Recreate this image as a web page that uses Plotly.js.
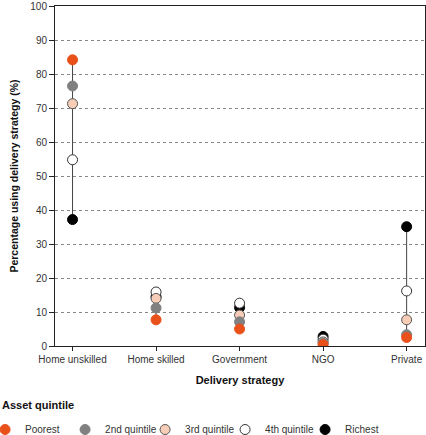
<!DOCTYPE html>
<html>
<head>
<meta charset="utf-8">
<script src="https://cdn.plot.ly/plotly-3.0.1.min.js"></script>
<style>
html,body{margin:0;padding:0;background:#fff;}
#chart{width:426px;height:435px;}
</style>
</head>
<body>
<div id="chart"></div>
<script>
const categories = ["Home unskilled", "Home skilled", "Government", "NGO", "Private"];
const seriesNames = ["Richest", "4th quintile", "3rd quintile", "2nd quintile", "Poorest"];
const richest  = [37.2, 14.5, 11.3, 2.8, 35.1];
const fourth   = [54.8, 15.9, 12.6, 2.0, 16.2];
const third    = [71.3, 14.0, 9.1, 1.2, 7.7];
const second   = [76.5, 11.2, 7.1, 0.8, 3.3];
const poorest  = [84.2, 7.7, 5.0, 0.4, 2.5];
const yTicks   = [0, 10, 20, 30, 40, 50, 60, 70, 80, 90, 100];

const FONT = "'Liberation Sans', Arial, sans-serif";

const seriesValues = [richest, fourth, third, second, poorest];
const styles = [
  {color: "#000000", line: {color: "#000000", width: 1}},
  {color: "#ffffff", line: {color: "#333333", width: 1}},
  {color: "#f7cdb8", line: {color: "#555555", width: 1}},
  {color: "#808080", line: {color: "#808080", width: 1}},
  {color: "#e9501a", line: {color: "#e9501a", width: 1}}
];

// range lines from min to max per category
const lx = [], ly = [];
categories.forEach((c, i) => {
  const vals = seriesValues.map(s => s[i]);
  lx.push(c, c, null);
  ly.push(Math.min(...vals), Math.max(...vals), null);
});

const traces = [{
  x: lx, y: ly, mode: "lines", type: "scatter",
  line: {color: "#444444", width: 1}, showlegend: false, hoverinfo: "skip"
}];
seriesNames.forEach((n, k) => {
  traces.push({
    x: categories, y: seriesValues[k], name: n, type: "scatter", mode: "markers",
    marker: Object.assign({size: 10}, styles[k]),
    legendrank: 5 - k
  });
});

const layout = {
  width: 426, height: 435,
  margin: {l: 55, r: 1, t: 6, b: 89, autoexpand: false},
  paper_bgcolor: "#fff", plot_bgcolor: "#fff",
  font: {family: FONT, size: 10, color: "#333"},
  xaxis: {
    type: "category", range: [-0.21, 4.22],
    showline: true, linecolor: "#222", linewidth: 1, mirror: true,
    ticks: "outside", ticklen: 4, tickcolor: "#222",
    showgrid: false, zeroline: false,
    tickfont: {family: FONT, size: 10, color: "#333"},
    title: {text: "<b>Delivery strategy</b>", font: {family: FONT, size: 11, color: "#111"}, standoff: 12}
  },
  yaxis: {
    range: [0, 100.05], tickmode: "array", tickvals: yTicks, ticktext: yTicks.map(String),
    showline: true, linecolor: "#222", linewidth: 1, mirror: true,
    ticks: "outside", ticklen: 5, tickcolor: "#222",
    showgrid: true, gridcolor: "#888", griddash: "dot", gridwidth: 1,
    zeroline: false,
    tickfont: {family: FONT, size: 10, color: "#333"},
    title: {text: "<b>Percentage using delivery strategy (%)</b>", font: {family: FONT, size: 10.5, color: "#111"}, standoff: 9}
  },
  annotations: [{
    xref: "paper", yref: "paper", x: -0.1486, y: -0.1735, xanchor: "left", yanchor: "middle",
    text: "<b>Asset quintile</b>", showarrow: false,
    font: {family: FONT, size: 11, color: "#111"}
  }],
  showlegend: true,
  legend: {
    orientation: "h", x: -0.189, xanchor: "left", y: -0.203, yanchor: "top",
    traceorder: "normal",
    font: {family: FONT, size: 10, color: "#333"},
    itemwidth: 30, entrywidth: 35, entrywidthmode: "pixels", tracegroupgap: 0
  }
};

Plotly.newPlot("chart", traces, layout, {displayModeBar: false, staticPlot: true});
</script>
</body>
</html>
